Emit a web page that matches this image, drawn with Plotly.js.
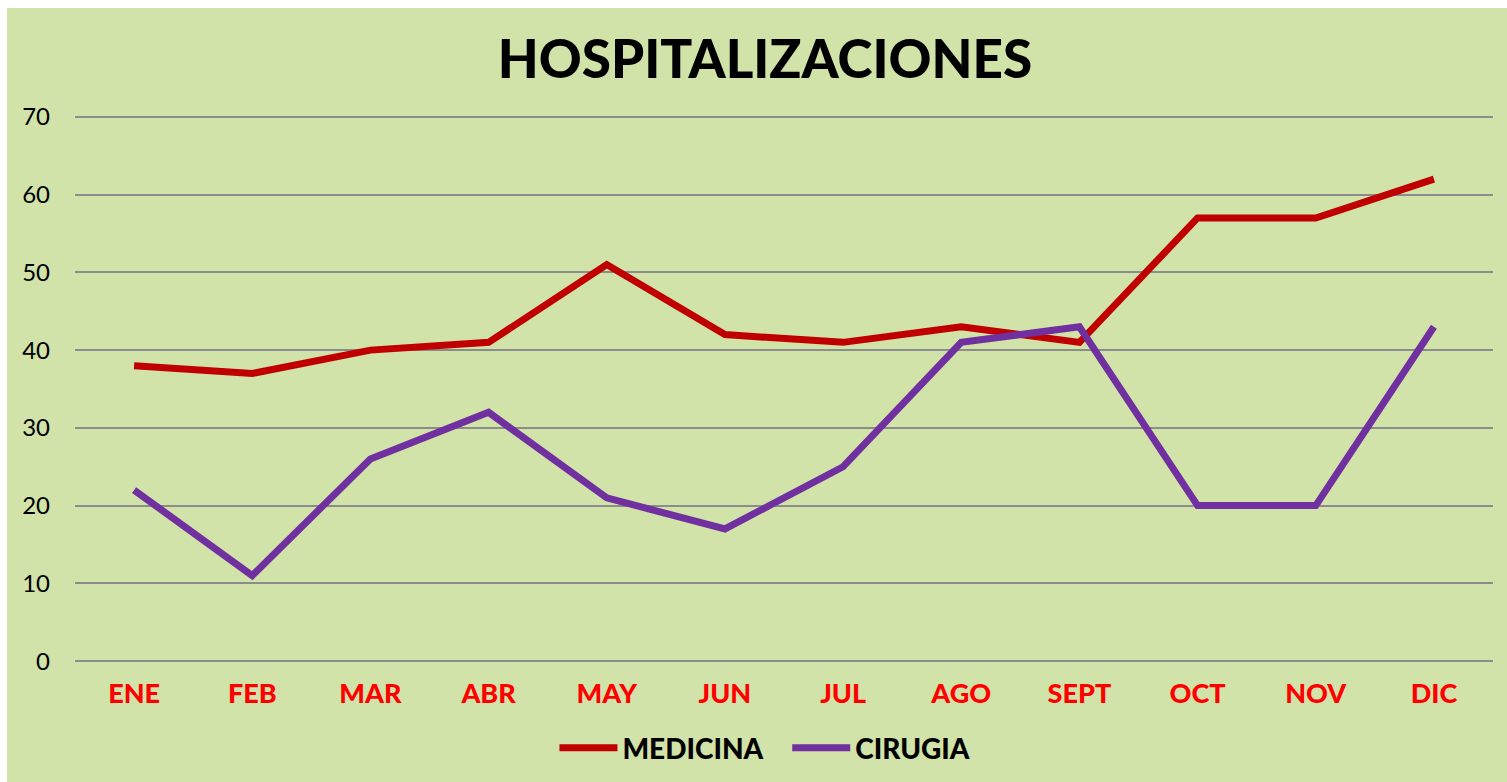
<!DOCTYPE html>
<html>
<head>
<meta charset="utf-8">
<script src="https://cdn.plot.ly/plotly-3.0.1.min.js"></script>
<style>
html,body{margin:0;padding:0;background:#ffffff;}
#chart{position:absolute;left:7px;top:8px;width:1500px;height:774px;}
</style>
</head>
<body>
<div id="chart"></div>
<script>
const months = ["ENE","FEB","MAR","ABR","MAY","JUN","JUL","AGO","SEPT","OCT","NOV","DIC"];
const medicina = [38,37,40,41,51,42,41,43,41,57,57,62];
const cirugia = [22,11,26,32,21,17,25,41,43,20,20,43];
const yTicks = [0,10,20,30,40,50,60,70];

const font = "Lato, 'Open Sans', sans-serif";
const traces = [
  {x: months, y: medicina, name: "MEDICINA\u00a0\u00a0\u00a0", type: "scatter", mode: "lines",
   line: {color: "#C00000", width: 7}},
  {x: months, y: cirugia, name: "CIRUGIA", type: "scatter", mode: "lines",
   line: {color: "#7030A0", width: 7}}
];
const layout = {
  width: 1500, height: 774,
  paper_bgcolor: "#D1E3A8", plot_bgcolor: "#D1E3A8",
  margin: {l: 68, r: 14, t: 105, b: 117},
  title: {text: "HOSPITALIZACIONES", font: {family: font, size: 53, color: "#000000", weight: 900},
          x: 0.5053, xref: "container", xanchor: "center", y: 1 - 51/774, yref: "container", yanchor: "middle"},
  xaxis: {type: "category", range: [-0.5, 11.5], showgrid: false, zeroline: false, showline: false,
          ticks: "", tickfont: {family: font, size: 27, color: "#FF0000", weight: 900},
          ticklabelstandoff: 10, fixedrange: true},
  yaxis: {range: [-0.5, 70.5], tickvals: yTicks, showgrid: true, gridcolor: "#8C8C8C", gridwidth: 2,
          zeroline: false, showline: false, ticks: "",
          tickfont: {family: font, size: 24, color: "#000000"}, ticklabelstandoff: 24, fixedrange: true},
  showlegend: true,
  legend: {orientation: "h", x: 0.5053, xref: "container", xanchor: "center", y: 1 - 740/774, yref: "container", yanchor: "middle",
           font: {family: font, size: 28, color: "#000000", weight: 900}, itemwidth: 58, bgcolor: "rgba(0,0,0,0)"}
};
Plotly.newPlot("chart", traces, layout, {displayModeBar: false, staticPlot: true});
</script>
</body>
</html>
